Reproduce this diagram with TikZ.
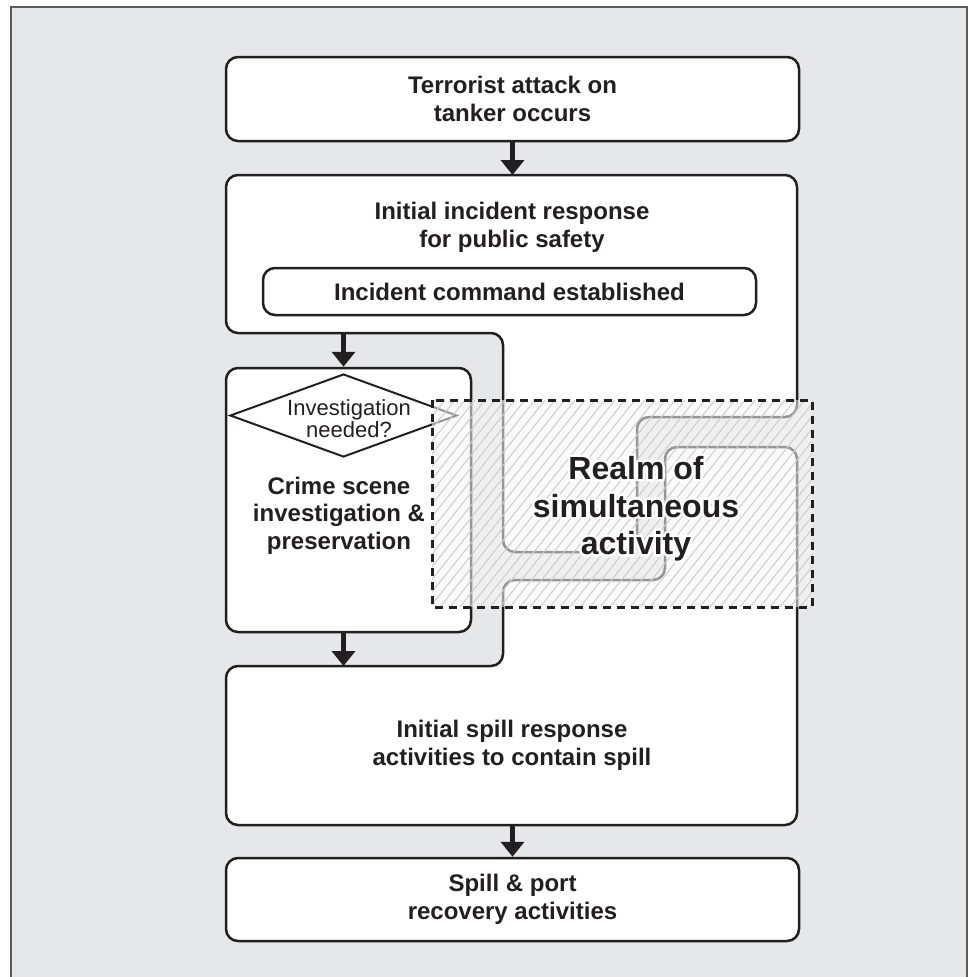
\documentclass[tikz,border=0pt]{standalone}
\usepackage{fontspec}
\setmainfont{Liberation Sans}
\usetikzlibrary{arrows.meta,shapes.geometric}
\definecolor{bg}{HTML}{E6E7E8}
\definecolor{ink}{HTML}{231F20}
\definecolor{hatchc}{HTML}{CDCDCD}
\definecolor{framec}{HTML}{5A5A5A}
\begin{document}
\begin{tikzpicture}[x=1pt,y=-1pt,
  box/.style={draw=ink, line width=2.5pt, fill=white, rounded corners=12pt, inner sep=0pt},
  region/.style={draw=ink, line width=2.5pt, fill=white, rounded corners=12pt},
  lbl/.style={font=\bfseries\fontsize{24}{27.5}\selectfont, align=center, text=ink, inner sep=0pt},
  small/.style={font=\fontsize{22}{19}\selectfont, align=center, text=ink, inner sep=0pt},
  realmtext/.style={font=\bfseries\fontsize{32}{37.5}\selectfont, align=center, inner sep=0pt},
  arr/.style={draw=ink, line width=5.5pt, -{Triangle[width=23pt,length=15pt]}},
]
\useasboundingbox (0,0) rectangle (972,977);
\fill[white] (0,0) rectangle (972,977);
\draw[fill=bg, draw=framec, line width=2pt] (11,7) rectangle (967,995);

% large interlocking regions
\path[region] (226,175) -- (797,175) -- (797,417) -- (637,417) -- (637,552) -- (503,552) -- (503,333) -- (226,333) -- cycle;
\path[region] (226,666) -- (503,666) -- (503,580) -- (665,580) -- (665,447) -- (797,447) -- (797,825) -- (226,825) -- cycle;
\coordinate (Atop) at (512.5,175);
\coordinate (Abot) at (343.5,333);
\coordinate (Ctop) at (343.5,666);
\coordinate (Cbot) at (512.5,825);

\node[lbl] (Atext) at (512,227.5) {Initial incident response\\for public safety};
\node[lbl] (Ctext) at (512,745.5) {Initial spill response\\activities to contain spill};

% boxes
\node[box, lbl, minimum width=573pt, minimum height=84pt] (top) at (512.5,99) {Terrorist attack on\\tanker occurs};
\node[box, lbl, minimum width=493pt, minimum height=47pt] (cmd) at (509.5,291.5) {Incident command established};
\node[box, lbl, minimum width=573pt, minimum height=83pt] (rec) at (512.5,899.5) {Spill \& port\\recovery activities};

% crime scene
\node[box, minimum width=245pt, minimum height=264pt] (B) at (348.5,500) {};
\node[diamond, draw=ink, line width=2pt, fill=white, minimum width=227pt, minimum height=83pt, inner sep=0pt] (dia) at (343.5,415.5) {};
\node[small] (diatext) at (349,418.5) {Investigation\\needed?};
\node[lbl] (Btext) at (339,515.5) {Crime scene\\investigation \&\\preservation};

% arrows
\draw[arr] (top.south) -- (Atop);
\draw[arr] (Abot) -- (dia.north |- B.north);
\draw[arr] (dia.south |- B.south) -- (Ctop);
\draw[arr] (Cbot) -- (rec.north);

% realm of simultaneous activity
\begin{scope}
  \clip (432,400) rectangle (812,607);
  \fill[gray!6, fill opacity=0.55] (432,400) rectangle (812,607);
  \foreach \c in {260,270,...,820} \draw[hatchc, line width=1pt] (\c,607) -- ++(165,-207);
\end{scope}
\draw[ink, line width=3pt, dash pattern=on 8pt off 6pt] (432,400) rectangle (812,607);

\foreach \a in {0,30,...,330}
  \node[realmtext, text=white] (halo\a) at ([shift={(\a:2.5)}]636,509) {Realm of\\simultaneous\\activity};
\node[realmtext, text=ink] (realm) at (636,509) {Realm of\\simultaneous\\activity};
\end{tikzpicture}
\end{document}
